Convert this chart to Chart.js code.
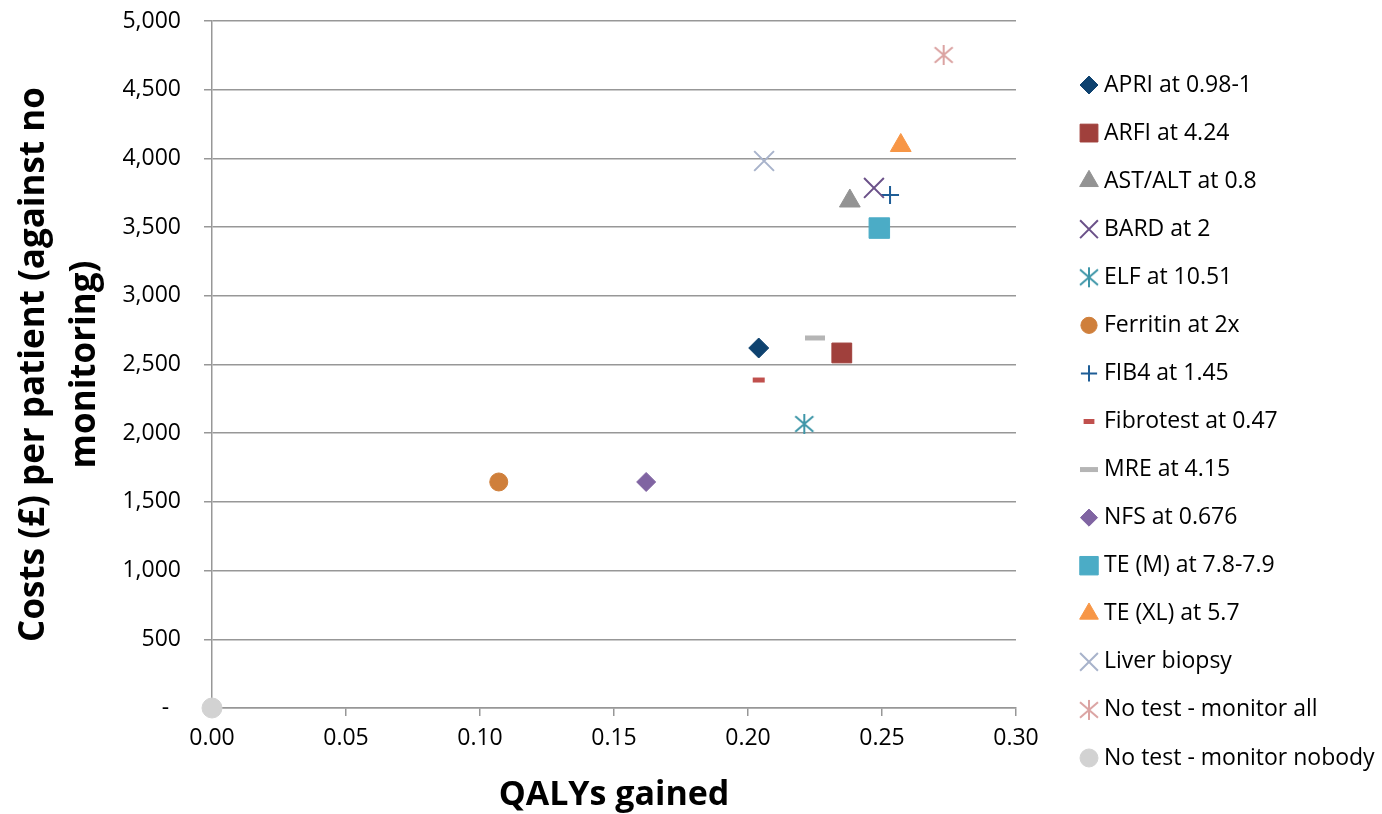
<!DOCTYPE html>
<html>
<head>
<meta charset="utf-8">
<script src="https://cdn.jsdelivr.net/npm/chart.js@4.4.0/dist/chart.umd.min.js"></script>
<style>
  html, body { margin: 0; padding: 0; background: #fff; }
  #wrap { width: 1382px; height: 814px; position: relative; }
</style>
</head>
<body>
<div id="wrap"><canvas id="cea"></canvas></div>
<script>
// strategies, in legend order
const strategies = [
  'APRI at 0.98-1', 'ARFI at 4.24', 'AST/ALT at 0.8', 'BARD at 2', 'ELF at 10.51',
  'Ferritin at 2x', 'FIB4 at 1.45', 'Fibrotest at 0.47', 'MRE at 4.15', 'NFS at 0.676',
  'TE (M) at 7.8-7.9', 'TE (XL) at 5.7', 'Liver biopsy', 'No test - monitor all', 'No test - monitor nobody'
];
const qalysGained = [0.204, 0.235, 0.238, 0.247, 0.221, 0.107, 0.253, 0.204, 0.225, 0.162, 0.249, 0.257, 0.206, 0.273, 0];
const costsPerPatient = [2620, 2584, 3690, 3785, 2067, 1645, 3734, 2387, 2693, 1645, 3493, 4094, 3981, 4753, 0];

const markerColors = [
  '#0E426F', '#A0403C', '#939393', '#6B5189', '#3E96A8',
  '#CF7F3B', '#1E5D96', '#C0504D', '#B5B5B5', '#8064A2',
  '#4BACC6', '#F79646', '#A8B3CB', '#DBA3A2', '#D2D2D2'
];
const markerStyles = [
  'rectRot', 'rect', 'triangle', 'crossRot', 'asterisk',
  'circle', 'cross', 'line', 'line', 'rectRot',
  'rect', 'triangle', 'crossRot', 'asterisk', 'circle'
];
const markerSizes = [10, 14, 12, 14, 10, 9, 9, 6, 10, 9.5, 14.5, 12, 14, 10, 10];

const xTickValues = [0, 0.05, 0.10, 0.15, 0.20, 0.25, 0.30];
const yTickValues = [0, 500, 1000, 1500, 2000, 2500, 3000, 3500, 4000, 4500, 5000];

const FONT = "'Open Sans', sans-serif";
const GRID = '#979797';

// Excel-style star marker: an X with a vertical stroke
function asterisk(color, size, lw) {
  const c = document.createElement('canvas');
  c.width = c.height = size;
  const g = c.getContext('2d');
  const m = size / 2, r = size / 2 - 1;
  g.strokeStyle = color;
  g.lineWidth = lw;
  g.beginPath();
  g.moveTo(m, m - r); g.lineTo(m, m + r);
  g.moveTo(m - r * 0.9, m - r * 0.78); g.lineTo(m + r * 0.9, m + r * 0.78);
  g.moveTo(m - r * 0.9, m + r * 0.78); g.lineTo(m + r * 0.9, m - r * 0.78);
  g.stroke();
  return c;
}

const datasets = strategies.map((name, i) => {
  const kind = markerStyles[i];
  const stroked = kind === 'crossRot' || kind === 'cross';
  return {
    label: name,
    data: [{ x: qalysGained[i], y: costsPerPatient[i] }],
    pointStyle: kind === 'asterisk' ? asterisk(markerColors[i], 22, 2) : kind,
    pointRadius: markerSizes[i],
    pointHoverRadius: markerSizes[i],
    pointBackgroundColor: markerColors[i],
    pointBorderColor: markerColors[i],
    pointBorderWidth: kind === 'line' ? 5 : (stroked ? 2 : 1),
    clip: false
  };
});

// legend on the right, drawn with Chart.js point helper
const sideLegend = {
  id: 'sideLegend',
  afterDraw(chart) {
    const ctx = chart.ctx;
    const top = 85, step = 48.07, markX = 1089, textX = 1104;
    ctx.save();
    ctx.font = '23px ' + FONT;
    ctx.textBaseline = 'middle';
    chart.data.datasets.forEach((ds, i) => {
      const y = top + i * step;
      ctx.fillStyle = ds.pointBackgroundColor;
      ctx.strokeStyle = ds.pointBorderColor;
      ctx.lineWidth = ds.pointBorderWidth;
      Chart.helpers.drawPoint(ctx, {
        pointStyle: ds.pointStyle,
        radius: ds.pointRadius * 0.9,
        borderWidth: ds.pointBorderWidth,
        rotation: 0
      }, markX, y);
      ctx.fillStyle = '#000';
      ctx.fillText(ds.label, textX, y);
    });
    ctx.restore();
  }
};

new Chart(document.getElementById('cea'), {
  type: 'scatter',
  data: { datasets },
  options: {
    responsive: true,
    maintainAspectRatio: false,
    animation: false,
    layout: { padding: { top: 21, right: 366, bottom: 0, left: 0 } },
    plugins: {
      legend: { display: false },
      tooltip: { enabled: false }
    },
    scales: {
      x: {
        type: 'linear',
        min: 0,
        max: 0.3,
        afterBuildTicks: s => { s.ticks = xTickValues.map(v => ({ value: v })); },
        afterFit: s => { s.height = 106; },
        ticks: {
          callback: v => v.toFixed(2),
          color: '#000',
          font: { family: FONT, size: 23 },
          padding: 9,
          maxRotation: 0
        },
        grid: {
          drawOnChartArea: false,
          drawTicks: true,
          tickLength: 8,
          color: GRID,
          lineWidth: 1.5
        },
        border: { color: GRID, width: 1.5 },
        title: {
          display: true,
          text: 'QALYs gained',
          color: '#000',
          font: { family: FONT, size: 34, weight: 'bold', lineHeight: 1.1 },
          padding: { top: 0, bottom: 0 }
        }
      },
      y: {
        type: 'linear',
        min: 0,
        max: 5000,
        afterBuildTicks: s => { s.ticks = yTickValues.map(v => ({ value: v })); },
        afterFit: s => {
          s.width = 212;
          s.paddingTop = 0;
          s.paddingBottom = 0;
        },
        ticks: {
          callback: v => v === 0 ? '-  ' : v.toLocaleString('en-US'),
          color: '#000',
          font: { family: FONT, size: 23 },
          padding: 23
        },
        grid: {
          color: GRID,
          lineWidth: 1.5,
          tickLength: 8
        },
        border: { color: GRID, width: 1.5 },
        title: {
          display: true,
          text: ['Costs (£) per patient (against no', 'monitoring)'],
          color: '#000',
          font: { family: FONT, size: 35, weight: 'bold', lineHeight: 1.45 },
          padding: { top: 9, bottom: 0 }
        }
      }
    }
  },
  plugins: [sideLegend]
});
</script>
</body>
</html>
